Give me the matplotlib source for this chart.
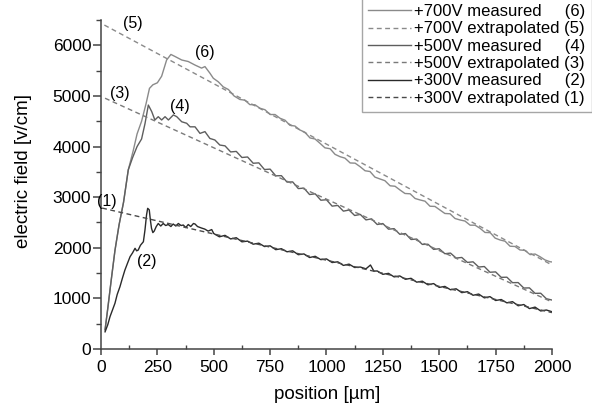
import matplotlib
matplotlib.use("Agg")
import matplotlib.pyplot as plt
from matplotlib.ticker import MultipleLocator

plt.rcParams['font.family'] = ['Liberation Sans', 'DejaVu Sans']

# +700V measured (6)
x700 = [18, 30, 45, 62, 80, 100, 121, 143, 160, 180, 200, 215, 230, 250, 269, 291, 310, 328,
        358, 387, 417, 446, 461, 483, 498, 520, 542, 565, 590, 616, 638, 660, 683, 705, 727,
        750, 772, 794, 816, 838, 860, 882, 904, 927, 949, 971, 993, 1016, 1038, 1060, 1082,
        1105, 1127, 1149, 1171, 1193, 1215, 1237, 1259, 1282, 1304, 1326, 1348, 1371, 1393,
        1415, 1437, 1459, 1481, 1503, 1525, 1548, 1570, 1592, 1614, 1637, 1659, 1681, 1703,
        1726, 1748, 1770, 1792, 1814, 1836, 1858, 1880, 1903, 1925, 1947, 1969, 1991, 2000]
y700 = [380, 800, 1350, 1950, 2450, 2900, 3540, 3920, 4250, 4500, 4850, 5150, 5220, 5260, 5390,
        5710, 5820, 5780, 5710, 5680, 5610, 5550, 5580, 5450, 5350, 5280, 5180, 5127, 5000, 4930,
        4917, 4829, 4825, 4757, 4728, 4633, 4633, 4559, 4521, 4419, 4406, 4328, 4283, 4170, 4150,
        4065, 3975, 3957, 3846, 3800, 3771, 3676, 3672, 3603, 3522, 3507, 3396, 3360, 3326, 3225,
        3216, 3142, 3073, 3067, 2974, 2945, 2921, 2821, 2817, 2747, 2678, 2672, 2579, 2550, 2529,
        2447, 2446, 2385, 2303, 2299, 2191, 2154, 2130, 2031, 2026, 1957, 1949, 1865, 1877, 1824,
        1760, 1725, 1720]

# +500V measured (4)
x500 = [18, 30, 45, 62, 80, 100, 121, 140, 160, 180, 195, 210, 225, 239, 254, 269, 284, 299,
        321, 336, 358, 380, 395, 417, 439, 461, 483, 505, 527, 550, 575, 600, 625, 650, 675,
        700, 725, 750, 775, 800, 825, 850, 875, 900, 925, 950, 975, 1000, 1025, 1050, 1075,
        1100, 1125, 1150, 1175, 1200, 1225, 1250, 1275, 1300, 1325, 1350, 1375, 1400, 1425,
        1450, 1475, 1500, 1525, 1550, 1575, 1600, 1625, 1650, 1675, 1700, 1725, 1750, 1775,
        1800, 1825, 1850, 1875, 1900, 1925, 1950, 1975, 2000]
y500 = [380, 800, 1350, 1950, 2450, 2900, 3540, 3780, 4000, 4150, 4450, 4820, 4690, 4525, 4590,
        4525, 4590, 4525, 4625, 4590, 4490, 4460, 4390, 4390, 4260, 4295, 4160, 4130, 4030, 4014,
        3894, 3904, 3784, 3794, 3670, 3678, 3546, 3554, 3422, 3425, 3298, 3302, 3170, 3179, 3052,
        3066, 2940, 2949, 2823, 2837, 2724, 2746, 2638, 2659, 2551, 2572, 2460, 2479, 2368, 2378,
        2267, 2281, 2164, 2173, 2067, 2070, 1969, 1981, 1883, 1895, 1797, 1809, 1711, 1723, 1620,
        1630, 1517, 1524, 1416, 1419, 1311, 1313, 1205, 1208, 1100, 1102, 994, 968]

# +300V measured (2)
x300 = [18, 30, 40, 50, 62, 72, 84, 95, 106, 118, 129, 140, 151, 158, 165, 175, 188, 195, 202,
        207, 214, 219, 224, 230, 236, 245, 254, 265, 276, 287, 298, 310, 320, 332, 343, 355,
        365, 376, 387, 398, 410, 417, 428, 446, 460, 475, 491, 500, 525, 550, 575, 600, 625,
        650, 675, 700, 725, 750, 775, 800, 825, 850, 875, 900, 925, 950, 975, 1000, 1025, 1050,
        1075, 1100, 1125, 1150, 1175, 1195, 1210, 1225, 1250, 1275, 1300, 1325, 1350, 1375,
        1400, 1425, 1450, 1475, 1500, 1525, 1550, 1575, 1600, 1625, 1650, 1675, 1700, 1725,
        1750, 1775, 1800, 1825, 1850, 1875, 1900, 1925, 1950, 1975, 2000]
y300 = [340, 480, 640, 760, 905, 1080, 1230, 1400, 1560, 1700, 1825, 1900, 1990, 1940, 1955,
        2050, 2120, 2350, 2650, 2780, 2750, 2550, 2385, 2300, 2330, 2420, 2480, 2430, 2480, 2440,
        2460, 2420, 2470, 2430, 2480, 2440, 2450, 2400, 2460, 2420, 2480, 2470, 2420, 2390, 2370,
        2330, 2360, 2282, 2217, 2246, 2175, 2199, 2118, 2132, 2071, 2091, 2025, 2039, 1963, 1982,
        1921, 1940, 1864, 1879, 1808, 1832, 1766, 1780, 1709, 1723, 1652, 1677, 1611, 1620, 1584,
        1660, 1540, 1542, 1476, 1495, 1425, 1444, 1378, 1397, 1321, 1340, 1269, 1293, 1218, 1237,
        1171, 1190, 1114, 1133, 1062, 1086, 1011, 1035, 959, 978, 912, 936, 855, 879, 799, 828,
        752, 771, 737]

# extrapolated straight lines (5), (3), (1)
x_ext5 = [15, 2000]
y_ext5 = [6400, 1660]
x_ext3 = [18, 2000]
y_ext3 = [4955, 930]
x_ext1 = [5, 2000]
y_ext1 = [2785, 720]

fig = plt.figure(figsize=(5.92, 4.17), dpi=100)
ax = fig.add_axes([0.1706, 0.163, 0.7618, 0.789])

dash = (0, (3.5, 2.5))
l6, = ax.plot(x700, y700, color='#8a8a8a', lw=1.0, label='+700V measured     (6)')
l5, = ax.plot(x_ext5, y_ext5, color='#8a8a8a', lw=1.0, ls=dash, label='+700V extrapolated (5)')
l4, = ax.plot(x500, y500, color='#5e5e5e', lw=1.0, label='+500V measured     (4)')
l3, = ax.plot(x_ext3, y_ext3, color='#7a7a7a', lw=1.0, ls=dash, label='+500V extrapolated (3)')
l2, = ax.plot(x300, y300, color='#2a2a2a', lw=1.0, label='+300V measured     (2)')
l1, = ax.plot(x_ext1, y_ext1, color='#4a4a4a', lw=1.0, ls=dash, label='+300V extrapolated (1)')

fs_tag = 11.5
ax.text(142, 6440, '(5)', ha='center', va='center', fontsize=fs_tag)
ax.text(84, 5040, '(3)', ha='center', va='center', fontsize=fs_tag)
ax.text(461, 5850, '(6)', ha='center', va='center', fontsize=fs_tag)
ax.text(350, 4800, '(4)', ha='center', va='center', fontsize=fs_tag)
ax.text(25, 2910, '(1)', ha='center', va='center', fontsize=fs_tag)
ax.text(203, 1725, '(2)', ha='center', va='center', fontsize=fs_tag)

ax.set_xlim(0, 2000)
ax.set_ylim(0, 6500)
ax.set_xticks([0, 250, 500, 750, 1000, 1250, 1500, 1750, 2000])
ax.set_yticks([0, 1000, 2000, 3000, 4000, 5000, 6000])
ax.xaxis.set_minor_locator(MultipleLocator(125))
ax.yaxis.set_minor_locator(MultipleLocator(500))

for s in ['top', 'right']:
    ax.spines[s].set_visible(False)
for s in ['left', 'bottom']:
    ax.spines[s].set_color('#444444')
    ax.spines[s].set_linewidth(1.1)

ax.tick_params(axis='x', which='major', direction='out', length=4, width=1.1,
               color='#444444', labelsize=12.5, pad=4)
ax.tick_params(axis='x', which='minor', direction='in', length=3, width=1.0, color='#444444')
ax.tick_params(axis='y', which='major', direction='out', length=5.5, width=1.1,
               color='#444444', labelsize=12.5, pad=1.5)
ax.tick_params(axis='y', which='minor', direction='out', length=3.5, width=1.0, color='#444444')

ax.set_xlabel('position [µm]', fontsize=13.5)
ax.set_ylabel('electric field [v/cm]', fontsize=13.5)
ax.xaxis.set_label_coords(0.501, -0.112)
ax.yaxis.set_label_coords(-0.153, 0.541)
ax.xaxis.label.set_va('top')

leg = fig.legend(handles=[l6, l5, l4, l3, l2, l1], loc='upper left',
                 bbox_to_anchor=(362 / 592, 1.004), fontsize=12, frameon=True, fancybox=False,
                 handlelength=2.6, handletextpad=0.2, labelspacing=0.14, borderpad=0.35,
                 borderaxespad=0)
leg.get_frame().set_edgecolor('#909090')
leg.get_frame().set_linewidth(1.0)

fig.savefig('out.png', dpi=100)
